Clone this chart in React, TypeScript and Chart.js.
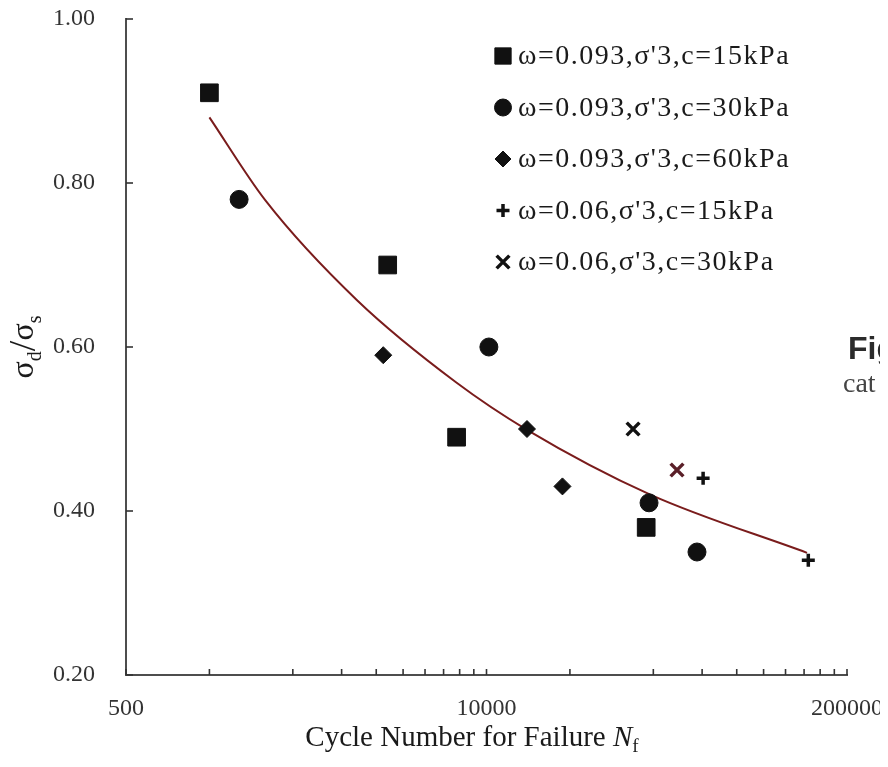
import React, { useEffect, useRef } from 'react';
import { Chart, registerables } from 'chart.js';
import { drawPoint } from 'chart.js/helpers';

Chart.register(...registerables);

// Cycle number to failure (N_f) and stress ratio σd/σs for each test group
const sq15N = [1000, 4400, 7800, 37700];
const sq15R = [0.91, 0.7, 0.49, 0.38];
const ci30N = [1280, 10200, 38600, 57500];
const ci30R = [0.78, 0.6, 0.41, 0.35];
const di60N = [4240, 14000, 18800];
const di60R = [0.59, 0.5, 0.43];
const pl15N = [60500, 145000];
const pl15R = [0.44, 0.34];
const cr30N = [33800, 48700];
const cr30R = [0.5, 0.45];
const cr30Colors = ['#111111', '#5a1f28'];

// Fitted fatigue curve, sampled along its length
const fitN = [1000, 1590, 3410, 7760, 14000, 39000, 143500];
const fitR = [0.88, 0.779, 0.657, 0.557, 0.499, 0.42, 0.349];

const seriesLabels = [
  "ω=0.093,σ'3,c=15kPa",
  "ω=0.093,σ'3,c=30kPa",
  "ω=0.093,σ'3,c=60kPa",
  "ω=0.06,σ'3,c=15kPa",
  "ω=0.06,σ'3,c=30kPa",
];

const xTickValues = [
  500, 1000, 2000, 3000, 4000, 5000, 6000, 7000, 8000, 9000, 10000,
  20000, 40000, 60000, 80000, 100000, 120000, 140000, 160000, 180000, 200000,
];
const xLabelled = [500, 10000, 200000];
const yTickValues = [0.2, 0.4, 0.6, 0.8, 1.0];

const SERIF = '"Liberation Serif", "Times New Roman", serif';
const INK = '#1a1a1a';

const pts = (xs: number[], ys: number[]) => xs.map((x, i) => ({ x, y: ys[i] }));

// Tick marks pointing into the plot area
const inwardTicks = {
  id: 'inwardTicks',
  afterDraw(chart: any) {
    const { ctx, chartArea, scales } = chart;
    ctx.save();
    ctx.strokeStyle = '#333';
    ctx.lineWidth = 1.6;
    scales.x.ticks.forEach((t: any) => {
      const px = scales.x.getPixelForValue(t.value);
      ctx.beginPath();
      ctx.moveTo(px, chartArea.bottom);
      ctx.lineTo(px, chartArea.bottom - 6);
      ctx.stroke();
    });
    scales.y.ticks.forEach((t: any) => {
      const py = scales.y.getPixelForValue(t.value);
      ctx.beginPath();
      ctx.moveTo(chartArea.left, py);
      ctx.lineTo(chartArea.left + 7, py);
      ctx.stroke();
    });
    ctx.restore();
  },
};

// Legend drawn inside the plot area, one row per marker series
const insideLegend = {
  id: 'insideLegend',
  afterDraw(chart: any) {
    const { ctx, chartArea } = chart;
    const mx = chartArea.left + 377;
    const y0 = chartArea.top + 37;
    const gap = 51.5;
    ctx.save();
    chart.data.datasets
      .filter((d: any) => d.inLegend)
      .forEach((d: any, i: number) => {
        const y = y0 + i * gap;
        const col = Array.isArray(d.backgroundColor) ? d.backgroundColor[0] : d.backgroundColor;
        ctx.fillStyle = col;
        ctx.strokeStyle = col;
        ctx.lineWidth = d.borderWidth;
        drawPoint(ctx, { pointStyle: d.pointStyle, radius: d.legendRadius, borderWidth: d.borderWidth, rotation: 0 } as any, mx, y);
        ctx.fillStyle = INK;
        ctx.font = `28px ${SERIF}`;
        (ctx as any).letterSpacing = '1.5px';
        ctx.textBaseline = 'middle';
        ctx.textAlign = 'left';
        ctx.fillText(d.label, mx + 15, y + 1);
        (ctx as any).letterSpacing = '0px';
      });
    ctx.restore();
  },
};

// Axis titles with subscripts, plus the neighbouring page text
const axisTitles = {
  id: 'axisTitles',
  afterDraw(chart: any) {
    const { ctx, chartArea, scales } = chart;
    ctx.save();
    ctx.fillStyle = INK;
    ctx.textAlign = 'left';
    ctx.textBaseline = 'alphabetic';

    // x title: Cycle Number for Failure N_f
    const main = 'Cycle Number for Failure ';
    const fMain = `29px ${SERIF}`;
    const fItal = `italic 29px ${SERIF}`;
    const fSub = `19px ${SERIF}`;
    ctx.font = fMain;
    const w1 = ctx.measureText(main).width;
    ctx.font = fItal;
    const w2 = ctx.measureText('N').width;
    ctx.font = fSub;
    const w3 = ctx.measureText('f').width;
    let x = chartArea.left + 346 - (w1 + w2 + w3) / 2;
    const by = chartArea.bottom + 71;
    ctx.font = fMain;
    ctx.fillText(main, x, by);
    x += w1;
    ctx.font = fItal;
    ctx.fillText('N', x, by);
    x += w2;
    ctx.font = fSub;
    ctx.fillText('f', x, by + 6);

    // y title: σd/σs, rotated
    ctx.translate(chartArea.left - 96, scales.y.getPixelForValue(0.6));
    ctx.rotate(-Math.PI / 2);
    const parts: [string, string, number][] = [
      ['σ', `32px ${SERIF}`, 0],
      ['d', `20px ${SERIF}`, 8],
      ['/', `38px ${SERIF}`, 2],
      ['σ', `32px ${SERIF}`, 0],
      ['s', `20px ${SERIF}`, 8],
    ];
    let total = 0;
    const widths = parts.map(([t, f]) => {
      ctx.font = f;
      const w = ctx.measureText(t).width;
      total += w;
      return w;
    });
    let px = -total / 2;
    parts.forEach(([t, f, dy], i) => {
      ctx.font = f;
      ctx.fillText(t, px, 3 + dy);
      px += widths[i];
    });
    ctx.restore();

    // page text beside the figure
    ctx.save();
    ctx.fillStyle = '#2b2b2b';
    ctx.textBaseline = 'alphabetic';
    ctx.font = 'bold 32px "Liberation Sans", Arial, sans-serif';
    ctx.fillText('Fig', 840, 355);
    ctx.fillStyle = '#444';
    ctx.font = `28px ${SERIF}`;
    ctx.fillText('cat', 835, 388);
    ctx.restore();
  },
};

export default function App() {
  const ref = useRef<HTMLCanvasElement>(null);

  useEffect(() => {
    const canvas = ref.current!;
    const marker = (style: string, r: number, lr: number, bw = 1, color: any = '#111') => ({
      pointStyle: style,
      pointRadius: r,
      pointHoverRadius: r,
      legendRadius: lr,
      backgroundColor: color,
      borderColor: color,
      borderWidth: bw,
      showLine: false,
      inLegend: true,
      order: 0,
    });
    const chart = new Chart(canvas, {
      type: 'scatter',
      data: {
        datasets: [
          { label: seriesLabels[0], data: pts(sq15N, sq15R), ...marker('rect', 12.5, 11.5) },
          { label: seriesLabels[1], data: pts(ci30N, ci30R), ...marker('circle', 9, 8.5) },
          { label: seriesLabels[2], data: pts(di60N, di60R), ...marker('rectRot', 8.5, 8) },
          { label: seriesLabels[3], data: pts(pl15N, pl15R), ...marker('cross', 6.5, 6.5, 3.5) },
          { label: seriesLabels[4], data: pts(cr30N, cr30R), ...marker('crossRot', 9, 9, 3.5, cr30Colors) },
          {
            label: 'fit',
            data: pts(fitN, fitR),
            showLine: true,
            pointRadius: 0,
            borderColor: '#7a1c1c',
            borderWidth: 2,
            cubicInterpolationMode: 'monotone',
            order: 1,
          } as any,
        ] as any,
      },
      options: {
        responsive: false,
        animation: false,
        events: [],
        layout: { padding: { top: 15, right: 41, bottom: 0, left: 0 } },
        plugins: { legend: { display: false }, tooltip: { enabled: false } },
        scales: {
          x: {
            type: 'logarithmic',
            min: 500,
            max: 200000,
            afterBuildTicks: (s: any) => {
              s.ticks = xTickValues.map((v) => ({ value: v }));
            },
            afterFit: (s: any) => {
              s.height = 92;
              s.paddingLeft = 0;
              s.paddingRight = 0;
            },
            grid: { display: false, drawTicks: false },
            border: { display: true, color: '#4d4d4d', width: 2 },
            ticks: {
              autoSkip: false,
              maxRotation: 0,
              padding: 19,
              color: '#333',
              font: { family: SERIF, size: 24 },
              callback: (v: any) => (xLabelled.includes(Number(v)) ? String(v) : ''),
            },
          },
          y: {
            min: 0.2,
            max: 1.0,
            afterBuildTicks: (s: any) => {
              s.ticks = yTickValues.map((v) => ({ value: v }));
            },
            afterFit: (s: any) => {
              s.width = 118;
              s.paddingTop = 0;
              s.paddingBottom = 0;
            },
            grid: { display: false, drawTicks: false },
            border: { display: true, color: '#4d4d4d', width: 2 },
            ticks: {
              padding: 31,
              color: '#333',
              font: { family: SERIF, size: 24 },
              callback: (v: any) => Number(v).toFixed(2),
            },
          },
        },
      } as any,
      plugins: [inwardTicks, insideLegend, axisTitles],
    });
    return () => chart.destroy();
  }, []);

  return (
    <div style={{ marginTop: -4, width: 880, height: 763 }}>
      <canvas ref={ref} width={880} height={763} style={{ display: 'block' }} />
    </div>
  );
}
